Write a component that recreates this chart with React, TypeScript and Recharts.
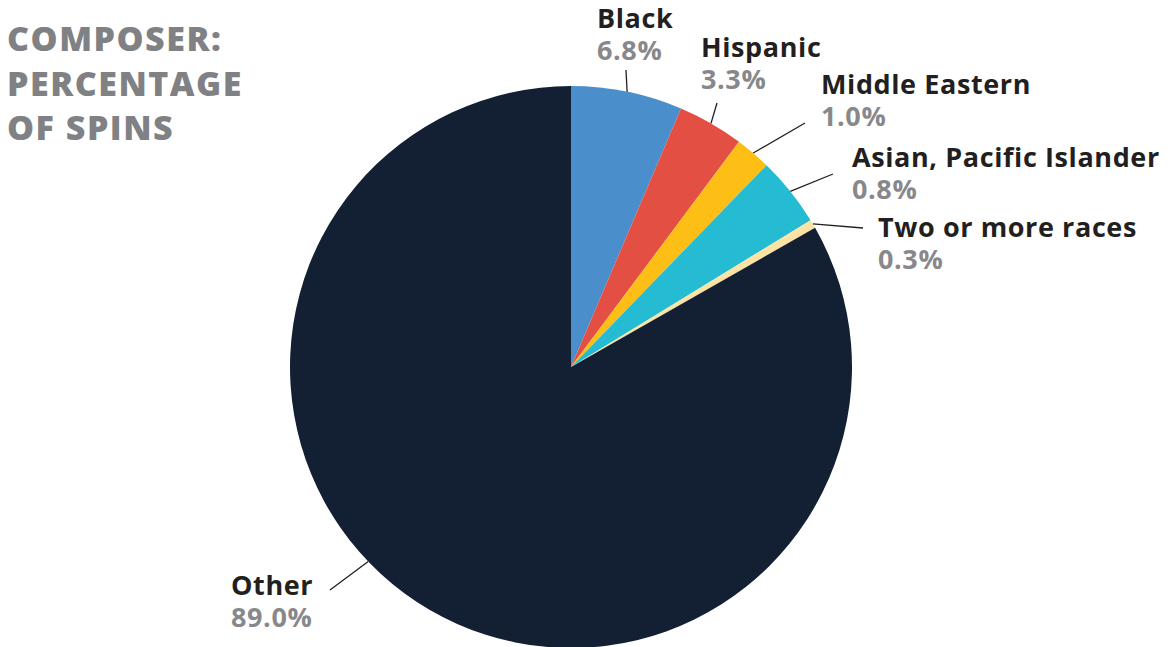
import React from "react";
import { PieChart, Pie, Cell } from "recharts";

// groups, clockwise from 12 o'clock
const groups = [
  "Black",
  "Hispanic",
  "Middle Eastern",
  "Asian, Pacific Islander",
  "Two or more races",
  "Other",
];

// the percentages printed next to each wedge
const reportedPct = [6.8, 3.3, 1.0, 0.8, 0.3, 89.0];

// the wedges in the original are not drawn to the printed numbers,
// these are the shares
const drawnShare = [6.4, 3.8, 2.05, 4.0, 0.5, 83.25];

const colors = ["#4a8fcc", "#e44f44", "#fdbf16", "#25bcd3", "#fde3a3", "#131f32"];

const titleLines = ["COMPOSER:", "PERCENTAGE", "OF SPINS"];

// label placement: name baseline (tx, ty), leader end (ex, ey),
// optional angle (deg, recharts convention) where the leader leaves the pie
const labelPos: { tx: number; ty: number; ex: number; ey: number; angle?: number }[] = [
  { tx: 597, ty: 28, ex: 626, ey: 70 },
  { tx: 701, ty: 57, ex: 717, ey: 103 },
  { tx: 821, ty: 94, ex: 805, ey: 123 },
  { tx: 852, ty: 167, ex: 833, ey: 174 },
  { tx: 878, ty: 237, ex: 863, ey: 228 },
  { tx: 231, ty: 595, ex: 330, ey: 590, angle: -136.2 },
];

const data = groups.map((g, i) => ({
  name: g,
  share: drawnShare[i],
  pct: reportedPct[i],
}));

const FONT = "'Open Sans', Lato, sans-serif";
const RAD = Math.PI / 180;

const renderLabel = (props: any) => {
  const { cx, cy, midAngle, outerRadius, index } = props;
  const p = labelPos[index];
  const a = p.angle ?? midAngle;
  const sx = cx + outerRadius * Math.cos(-a * RAD);
  const sy = cy + outerRadius * Math.sin(-a * RAD);
  return (
    <g key={"lbl-" + index}>
      <line x1={sx} y1={sy} x2={p.ex} y2={p.ey} stroke="#231f20" strokeWidth={1.3} />
      <text
        x={p.tx}
        y={p.ty}
        fill="#231f20"
        fontSize={27}
        fontWeight={700}
        fontFamily={FONT}
        letterSpacing={0.6}
      >
        {groups[index]}
      </text>
      <text
        x={p.tx}
        y={p.ty + 31.5}
        fill="#88888b"
        fontSize={27}
        fontWeight={700}
        fontFamily={FONT}
        letterSpacing={0.6}
      >
        {reportedPct[index].toFixed(1) + "%"}
      </text>
    </g>
  );
};

export default function App() {
  return (
    <div style={{ position: "absolute", left: 0, top: 0, width: 1174, height: 647, background: "#fff", overflow: "hidden" }}>
      <div
        style={{
          position: "absolute",
          left: 7,
          top: 16,
          fontFamily: FONT,
          fontWeight: 800,
          fontSize: 34,
          lineHeight: "44.5px",
          letterSpacing: 1.5,
          color: "#808184",
        }}
      >
        {titleLines.map((t) => (
          <div key={t}>{t}</div>
        ))}
      </div>
      <PieChart
        width={1174}
        height={647}
        margin={{ top: 0, right: 0, bottom: 0, left: 0 }}
        style={{ position: "absolute", left: 0, top: 0 }}
      >
        <Pie
          data={data}
          dataKey="share"
          nameKey="name"
          cx={571}
          cy={367}
          outerRadius={281}
          startAngle={90}
          endAngle={-270}
          stroke="none"
          label={renderLabel}
          labelLine={false}
          isAnimationActive={false}
        >
          {data.map((d, i) => (
            <Cell key={d.name} fill={colors[i]} />
          ))}
        </Pie>
      </PieChart>
    </div>
  );
}
